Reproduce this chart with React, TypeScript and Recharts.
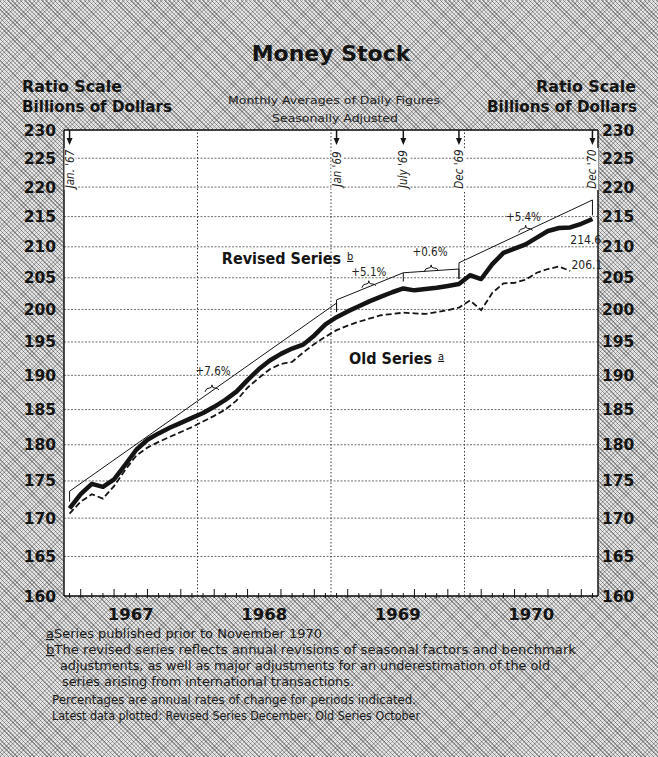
import React from 'react';
import { LineChart, Line, XAxis, YAxis, CartesianGrid, ReferenceLine, ReferenceDot } from 'recharts';

// ---- categories ----
const years = [1967, 1968, 1969, 1970];
const monthNames = ['Jan', 'Feb', 'Mar', 'Apr', 'May', 'Jun', 'Jul', 'Aug', 'Sep', 'Oct', 'Nov', 'Dec'];

// ---- series values (billions of dollars, monthly averages) ----
const revisedSeries = [
  171.3, 173.2, 174.6, 174.2, 175.2, 177.2, 179.3, 180.7, 181.6, 182.4, 183.1, 183.8,
  184.5, 185.4, 186.4, 187.6, 189.3, 190.9, 192.2, 193.2, 194.0, 194.6, 196.0, 197.7,
  198.8, 199.7, 200.5, 201.3, 202.0, 202.7, 203.3, 203.0, 203.2, 203.4, 203.7, 204.0,
  205.4, 204.8, 207.2, 209.0, 209.7, 210.4, 211.5, 212.6, 213.1, 213.2, 213.8, 214.6,
];
const oldSeries = [
  170.6, 172.2, 173.2, 172.6, 174.3, 176.5, 178.5, 179.6, 180.4, 181.1, 181.8, 182.5,
  183.3, 184.1, 185.0, 186.3, 188.2, 189.6, 190.9, 191.7, 192.0, 193.4, 194.7, 195.8,
  196.8, 197.5, 198.1, 198.6, 199.1, 199.3, 199.5, 199.4, 199.3, 199.6, 199.9, 200.3,
  201.4, 199.9, 202.6, 204.1, 204.2, 204.7, 205.8, 206.4, 206.8, 206.1,
];

// trend segments (month index, value) with their bracket ends
const trend1 = [{ m: 0, v: 172.2 }, { m: 0, v: 173.6 }, { m: 24, v: 201.0 }, { m: 24, v: 199.6 }];
const trend2 = [{ m: 24, v: 199.6 }, { m: 24, v: 201.5 }, { m: 30, v: 205.8 }, { m: 30, v: 204.4 }];
const trend3 = [{ m: 30, v: 205.8 }, { m: 35, v: 206.4 }, { m: 35, v: 204.8 }];
const trend4 = [{ m: 35, v: 204.8 }, { m: 35, v: 207.4 }, { m: 47, v: 217.8 }, { m: 47, v: 215.2 }];
const trends = [trend1, trend2, trend3, trend4];

// ---- axis ticks / labels ----
const yTicks = [160, 165, 170, 175, 180, 185, 190, 195, 200, 205, 210, 215, 220, 225, 230];
const yearBoundaries = [11.5, 23.5, 35.5];
const yearCenters = [5.5, 17.5, 29.5, 41.5];
const arrowMarks = [
  { m: 0, label: "Jan. '67" },
  { m: 24, label: "Jan '69" },
  { m: 30, label: "July '69" },
  { m: 35, label: "Dec '69" },
  { m: 47, label: "Dec '70" },
];
const pctLabels = [
  { m: 12.9, v: 190.6, text: '+7.6%', brace: 12.8, trend: 0 },
  { m: 26.9, v: 205.9, text: '+5.1%', brace: 26.9, trend: 1 },
  { m: 32.4, v: 209.1, text: '+0.6%', brace: 32.5, trend: 2 },
  { m: 40.8, v: 214.9, text: '+5.4%', brace: 41.0, trend: 3 },
];
const endLabels = [
  { m: 46.4, v: 211.2, text: '214.6' },
  { m: 46.5, v: 207.0, text: '206.1' },
];

const data = years.flatMap((yr, yi) =>
  monthNames.map((mn, mi) => {
    const i = yi * 12 + mi;
    return {
      m: i,
      label: `${mn} ${yr}`,
      revised: revisedSeries[i],
      old: i < oldSeries.length ? oldSeries[i] : null,
    };
  })
);

// position on a (ratio-scale) trend segment, for placing its brace
const onTrend = (t: { m: number; v: number }[], m: number) => {
  const ai = t.findIndex((p, i) => i < t.length - 1 && t[i + 1].m !== p.m);
  const a = t[ai];
  const b = t[ai + 1];
  const f = (m - a.m) / (b.m - a.m);
  return a.v * Math.pow(b.v / a.v, f);
};

const xTicks = [...data.map((d) => d.m), ...yearCenters].sort((a, b) => a - b);

const INK = '#141414';
const AXIS_FONT = "'DejaVu Sans', sans-serif";
const COND_FONT = "'DejaVu Sans Condensed', 'DejaVu Sans', sans-serif";

const XTick = (props: any) => {
  const { x, y, payload } = props;
  const v = payload.value as number;
  if (Number.isInteger(v)) {
    const h = v % 3 === 1 ? 9 : 5;
    return <line x1={x} x2={x} y1={y} y2={y - h} stroke={INK} strokeWidth={1} />;
  }
  const idx = yearCenters.indexOf(v);
  return (
    <text x={x} y={y + 22} textAnchor="middle" fontFamily={AXIS_FONT} fontWeight="bold" fontSize={16.5} fill={INK}>
      {years[idx]}
    </text>
  );
};

const arrowShape = (label: string) => (p: any) => {
  const { cx, cy } = p;
  return (
    <g>
      <line x1={cx} x2={cx} y1={cy} y2={cy + 11} stroke={INK} strokeWidth={1.5} />
      <path d={`M${cx - 3},${cy + 8} L${cx + 3},${cy + 8} L${cx},${cy + 15} Z`} fill={INK} />
      <rect x={cx - 5} y={cy + 18} width={11} height={42} fill="#fff" />
      <text
        transform={`translate(${cx + 4},${cy + 39}) rotate(-90)`}
        textAnchor="middle"
        fontSize={11.5}
        fontStyle="italic"
        fontFamily={COND_FONT}
        fill="#222"
      >
        {label}
      </text>
    </g>
  );
};

const braceShape = (p: any) => {
  const { cx, cy } = p;
  return (
    <path
      d={`M${cx - 7},${cy + 1} Q${cx - 6},${cy - 3} ${cx - 2},${cy - 3} Q${cx},${cy - 3} ${cx},${cy - 6} Q${cx},${cy - 3} ${cx + 2},${cy - 3} Q${cx + 6},${cy - 3} ${cx + 7},${cy - 1}`}
      fill="none"
      stroke={INK}
      strokeWidth={1}
    />
  );
};

const textShape = (text: string, size: number) => (p: any) => (
  <text x={p.cx} y={p.cy + size * 0.35} textAnchor="middle" fontSize={size} fontFamily={COND_FONT} fill="#222">
    {text}
  </text>
);

const seriesLabelShape = (name: string, note: string) => (p: any) => (
  <text
    x={p.cx}
    y={p.cy + 6}
    textAnchor="middle"
    fontSize={16}
    fontWeight="bold"
    fontFamily="'Liberation Sans Narrow', 'DejaVu Sans Condensed', sans-serif"
    fill={INK}
  >
    {name}
    <tspan dx={6} dy={-4} fontSize={11} fontWeight="normal" textDecoration="underline">
      {note}
    </tspan>
  </text>
);

const hatch = [
  'repeating-linear-gradient(45deg, rgba(0,0,0,0.34) 0px, rgba(0,0,0,0.34) 1px, rgba(0,0,0,0) 1px, rgba(0,0,0,0) 3px)',
  'repeating-linear-gradient(-45deg, rgba(0,0,0,0.2) 0px, rgba(0,0,0,0.2) 1px, rgba(0,0,0,0) 1px, rgba(0,0,0,0) 3px)',
  '#e4e4e4',
].join(', ');

const FOOT = { fontSize: 12, lengthAdjust: 'spacingAndGlyphs' as const };

export default function App() {
  return (
    <div style={{ position: 'fixed', left: 0, top: 0, width: 658, height: 757, background: hatch, overflow: 'hidden' }}>
      <svg width={658} height={757} style={{ position: 'absolute', left: 0, top: 0 }}>
        <text x={331} y={61} textAnchor="middle" fontFamily={AXIS_FONT} fontWeight="bold" fontSize={22} fill={INK}>
          Money Stock
        </text>
        <g fontFamily={COND_FONT} fontWeight="bold" fontSize={16} fill={INK}>
          <text x={22} y={92} textLength={100} lengthAdjust="spacingAndGlyphs">Ratio Scale</text>
          <text x={22} y={112} textLength={150} lengthAdjust="spacingAndGlyphs">Billions of Dollars</text>
          <text x={536} y={92} textLength={100} lengthAdjust="spacingAndGlyphs">Ratio Scale</text>
          <text x={487} y={112} textLength={150} lengthAdjust="spacingAndGlyphs">Billions of Dollars</text>
        </g>
        <g fontFamily={COND_FONT} fontSize={11} fill="#222">
          <text x={228} y={104} textLength={212} lengthAdjust="spacingAndGlyphs">Monthly Averages of Daily Figures</text>
          <text x={272} y={122} textLength={126} lengthAdjust="spacingAndGlyphs">Seasonally Adjusted</text>
        </g>
        <g fontFamily={AXIS_FONT} fill="#1a1a1a">
          <text x={46} y={638} textLength={276} {...FOOT}>
            <tspan textDecoration="underline">a</tspan>
            <tspan>Series published prior to November 1970</tspan>
          </text>
          <text x={46} y={654} textLength={530} {...FOOT}>
            <tspan textDecoration="underline">b</tspan>
            <tspan>The revised series reflects annual revisions of seasonal factors and benchmark</tspan>
          </text>
          <text x={60} y={670} textLength={490} {...FOOT}>adjustments, as well as major adjustments for an underestimation of the old</text>
          <text x={62} y={686} textLength={292} {...FOOT}>series arising from international transactions.</text>
          <text x={52} y={704} textLength={364} {...FOOT}>Percentages are annual rates of change for periods indicated.</text>
          <text x={52} y={720} textLength={368} {...FOOT}>Latest data plotted:  Revised Series December; Old Series October</text>
        </g>
      </svg>
      <div style={{ position: 'absolute', left: 0, top: 0 }}>
        <LineChart width={658} height={757} data={data} margin={{ top: 130, right: 0, bottom: 131, left: 0 }}>
          <CartesianGrid fill="#fff" vertical={false} stroke="#4a4a4a" strokeDasharray="2 1.5" strokeWidth={0.8} />
          <XAxis
            dataKey="m"
            type="number"
            domain={[-0.5, 47.5]}
            ticks={xTicks}
            interval={0}
            tickSize={0}
            tickLine={false}
            tick={<XTick />}
            height={30}
            axisLine={{ stroke: INK, strokeWidth: 1.5 }}
            allowDataOverflow
          />
          <YAxis
            scale="log"
            domain={[160, 230]}
            ticks={yTicks}
            allowDataOverflow
            interval={0}
            width={64}
            tickLine={false}
            axisLine={{ stroke: INK, strokeWidth: 1.5 }}
            tick={{ fontFamily: AXIS_FONT, fontWeight: 'bold', fontSize: 15.5, fill: INK }}
          />
          <YAxis
            yAxisId="right"
            orientation="right"
            scale="log"
            domain={[160, 230]}
            ticks={yTicks}
            allowDataOverflow
            interval={0}
            width={60}
            tickLine={false}
            tickMargin={-2}
            axisLine={{ stroke: INK, strokeWidth: 1.5 }}
            tick={{ fontFamily: AXIS_FONT, fontWeight: 'bold', fontSize: 15.5, fill: INK }}
          />
          {yearBoundaries.map((b) => (
            <ReferenceLine key={`yb${b}`} x={b} stroke="#3a3a3a" strokeDasharray="1.5 2" strokeWidth={1} />
          ))}
          <ReferenceLine y={230} stroke={INK} strokeWidth={1.5} />
          {trends.map((t, i) => (
            <Line
              key={`tr${i}`}
              data={t}
              dataKey="v"
              type="linear"
              stroke={INK}
              strokeWidth={1}
              dot={false}
              isAnimationActive={false}
            />
          ))}
          <Line
            dataKey="old"
            type="linear"
            stroke={INK}
            strokeWidth={1.8}
            strokeDasharray="6 3"
            dot={false}
            isAnimationActive={false}
          />
          <Line
            dataKey="revised"
            type="linear"
            stroke={INK}
            strokeWidth={4.5}
            strokeLinejoin="round"
            dot={false}
            isAnimationActive={false}
          />
          {pctLabels.map((l) => (
            <ReferenceDot
              key={`br${l.text}`}
              x={l.brace}
              y={onTrend(trends[l.trend], l.brace)}
              r={0}
              shape={braceShape}
              ifOverflow="visible"
            />
          ))}
          {arrowMarks.map((a) => (
            <ReferenceDot key={`ar${a.m}`} x={a.m} y={230} r={0} shape={arrowShape(a.label)} ifOverflow="visible" />
          ))}
          {pctLabels.map((l) => (
            <ReferenceDot key={`pl${l.text}`} x={l.m} y={l.v} r={0} shape={textShape(l.text, 11.5)} ifOverflow="visible" />
          ))}
          {endLabels.map((l) => (
            <ReferenceDot key={`el${l.text}`} x={l.m} y={l.v} r={0} shape={textShape(l.text, 12)} ifOverflow="visible" />
          ))}
          <ReferenceDot x={19.6} y={208.2} r={0} shape={seriesLabelShape('Revised Series', 'b')} ifOverflow="visible" />
          <ReferenceDot x={29.4} y={192.6} r={0} shape={seriesLabelShape('Old Series', 'a')} ifOverflow="visible" />
        </LineChart>
      </div>
    </div>
  );
}
